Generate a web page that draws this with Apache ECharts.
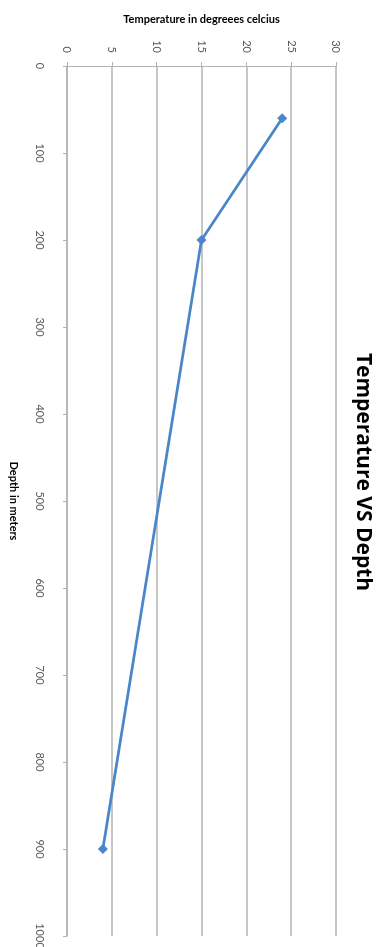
<!DOCTYPE html>
<html><head><meta charset="utf-8">
<script src="https://cdn.jsdelivr.net/npm/echarts@6/dist/echarts.min.js"></script>
<style>html,body{margin:0;padding:0;background:#fff}#c{width:380px;height:947px}</style>
</head><body><div id="c"></div>
<script>
const temperature = [24, 15, 4];
const depth = [60, 200, 900];
const tempTicks = { min: 0, max: 30, step: 5 };
const depthTicks = { min: 0, max: 1000, step: 100 };
const title = 'Temperature VS Depth';
const xName = 'Temperature in degreees celcius';
const yName = 'Depth in meters';

const chart = echarts.init(document.getElementById('c'));
const grey = '#b3b3b3';
const labelColor = '#595959';
chart.setOption({
  animation: false,
  grid: { left: 67, right: 44, top: 66, bottom: 11, containLabel: false, outerBoundsMode: 'none' },
  graphic: [{
    type: 'text', x: 363, y: 472, rotation: -Math.PI / 2,
    style: { text: title, font: 'bold 21px "Open Sans", sans-serif', fill: '#000', textAlign: 'center', textVerticalAlign: 'middle' }
  }],
  xAxis: {
    type: 'value', position: 'top', min: tempTicks.min, max: tempTicks.max, interval: tempTicks.step,
    name: xName, nameLocation: 'middle', nameGap: 41,
    nameTextStyle: { fontFamily: 'Lato', fontWeight: 'bold', fontSize: 11, color: '#000' },
    axisLine: { show: true, lineStyle: { color: grey, width: 1 } },
    axisTick: { show: true, inside: false, length: 4, lineStyle: { color: grey } },
    axisLabel: { rotate: -90, margin: 13, fontFamily: 'Lato', fontSize: 11, color: labelColor },
    splitLine: { show: true, lineStyle: { color: grey, width: 1.5 } }
  },
  yAxis: {
    type: 'value', inverse: true, min: depthTicks.min, max: depthTicks.max, interval: depthTicks.step,
    name: yName, nameLocation: 'middle', nameRotate: -90, nameGap: 48,
    nameTextStyle: { fontFamily: 'Lato', fontWeight: 'bold', fontSize: 11, color: '#000' },
    axisLine: { show: true, lineStyle: { color: grey, width: 1.5 } },
    axisTick: { show: true, inside: false, length: 4, lineStyle: { color: grey } },
    axisLabel: { rotate: -90, margin: 22, fontFamily: 'Lato', fontSize: 11, color: labelColor, formatter: v => String(v) },
    splitLine: { show: false }
  },
  series: [{
    type: 'line',
    data: temperature.map((t, i) => [t, depth[i]]),
    symbol: 'diamond', symbolSize: 10,
    lineStyle: { color: '#4a86c8', width: 2.75 },
    itemStyle: { color: '#4a86c8' }
  }]
});
</script></body></html>
